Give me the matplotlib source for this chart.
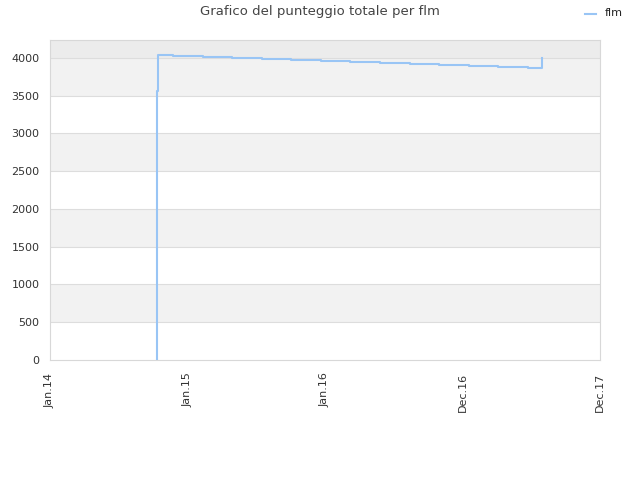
import matplotlib
matplotlib.use("Agg")
import matplotlib.pyplot as plt
from matplotlib.lines import Line2D

# data: day offsets from 2014-01-01 and total score
days = [283, 286, 288, 326, 405, 483, 563, 640, 719, 796, 876, 956, 1033, 1112, 1189, 1269, 1306]
scores = [3563, 4040, 4040, 4026, 4013, 4000, 3987, 3974, 3960, 3947, 3934, 3921, 3907, 3894, 3881, 3868, 4000]
start_day = 283
tick_days = [0, 365, 730, 1095, 1460]
tick_labels = ["Jan.14", "Jan.15", "Jan.16", "Dec.16", "Dec.17"]
series_name = "flm"
title = "Grafico del punteggio totale per flm"

line_color = "#99c5f5"

fig = plt.figure(figsize=(6.4, 4.8), dpi=100)
ax = fig.add_axes([50/640, 120/480, 550/640, 320/480])
ymax = 4238
ax.set_xlim(0, 1460)
ax.set_ylim(0, ymax)

for lo in [500, 1500, 2500, 3500]:
    ax.axhspan(lo, lo + 500, color="#f2f2f2", zorder=0, lw=0)
ax.axhspan(4000, ymax, color="#ececec", zorder=0, lw=0)
for y in range(500, 4001, 500):
    ax.axhline(y, color="#dddddd", lw=0.8, zorder=1)

xs = [start_day] + days
ys = [0] + scores
ax.step(xs, ys, where="post", color=line_color, lw=1.5, zorder=3, label=series_name)

ax.set_yticks(range(0, 4001, 500))
ax.set_yticklabels([str(v) for v in range(0, 4001, 500)], fontsize=8, color="#333333")
ax.set_xticks(tick_days)
ax.set_xticklabels(tick_labels, rotation=90, fontsize=8, color="#333333")
ax.tick_params(axis="y", length=0, pad=7.5)
ax.tick_params(axis="x", length=0, pad=9)
for s in ax.spines.values():
    s.set_color("#d8d8d8")
    s.set_linewidth(0.8)

fig.text(0.5, 1 - 12/480, title, ha="center", va="center", fontsize=9.5, color="#444444")

# legend
fig.add_artist(Line2D([585/640, 596/640], [1 - 14/480, 1 - 14/480], color=line_color, lw=1.5,
                      transform=fig.transFigure))
fig.text(605/640, 1 - 13/480, series_name, ha="left", va="center", fontsize=8, color="#222222")

fig.savefig("out.png", dpi=100)
